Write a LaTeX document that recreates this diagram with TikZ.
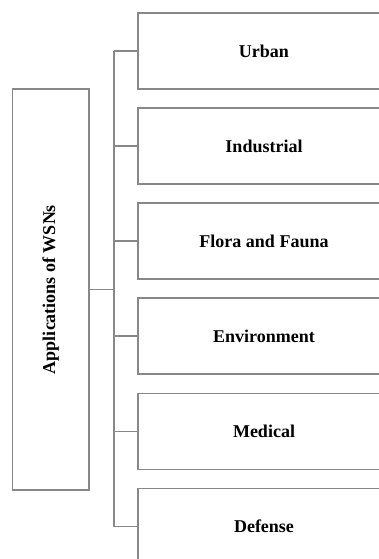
\documentclass[tikz,border=0pt]{standalone}
\usepackage{fontspec}
\setmainfont{Liberation Serif}
\begin{document}
\begin{tikzpicture}[x=1pt,y=-1pt,
  line/.style={draw=linegray,line width=1.4pt},
  appbox/.style={draw=linegray,line width=1.2pt,rectangle,minimum width=252pt,minimum height=76pt,
    inner sep=0pt,font=\fontsize{18}{21}\selectfont\bfseries},
  rootbox/.style={draw=linegray,line width=1.2pt,rectangle,minimum width=76.5pt,minimum height=401pt,
    inner sep=0pt,font=\fontsize{18}{21}\selectfont\bfseries}]
\definecolor{linegray}{HTML}{888888}
\useasboundingbox (0,0) rectangle (379,559);
\clip (0,0) rectangle (379,559);
% root of the tree
\node[rootbox] (app) at (50.75,289.5) {\rotatebox{90}{Applications of WSNs}};
% application areas
\node[appbox] (urban) at (264,51) {Urban};
\node[appbox] (industrial) at (264,146) {Industrial};
\node[appbox] (flora) at (264,241) {Flora and Fauna};
\node[appbox] (environment) at (264,336) {Environment};
\node[appbox] (medical) at (264,431.5) {Medical};
\node[appbox] (defense) at (264,526.5) {Defense};
% vertical trunk
\coordinate (trunk) at (114,0);
\draw[line] (urban.west -| trunk) -- (defense.west -| trunk);
\draw[line] (app.east) -- (app.east -| trunk);
\foreach \b in {urban,industrial,flora,environment,medical,defense}
  \draw[line] (\b.west -| trunk) -- (\b.west);
\end{tikzpicture}
\end{document}
